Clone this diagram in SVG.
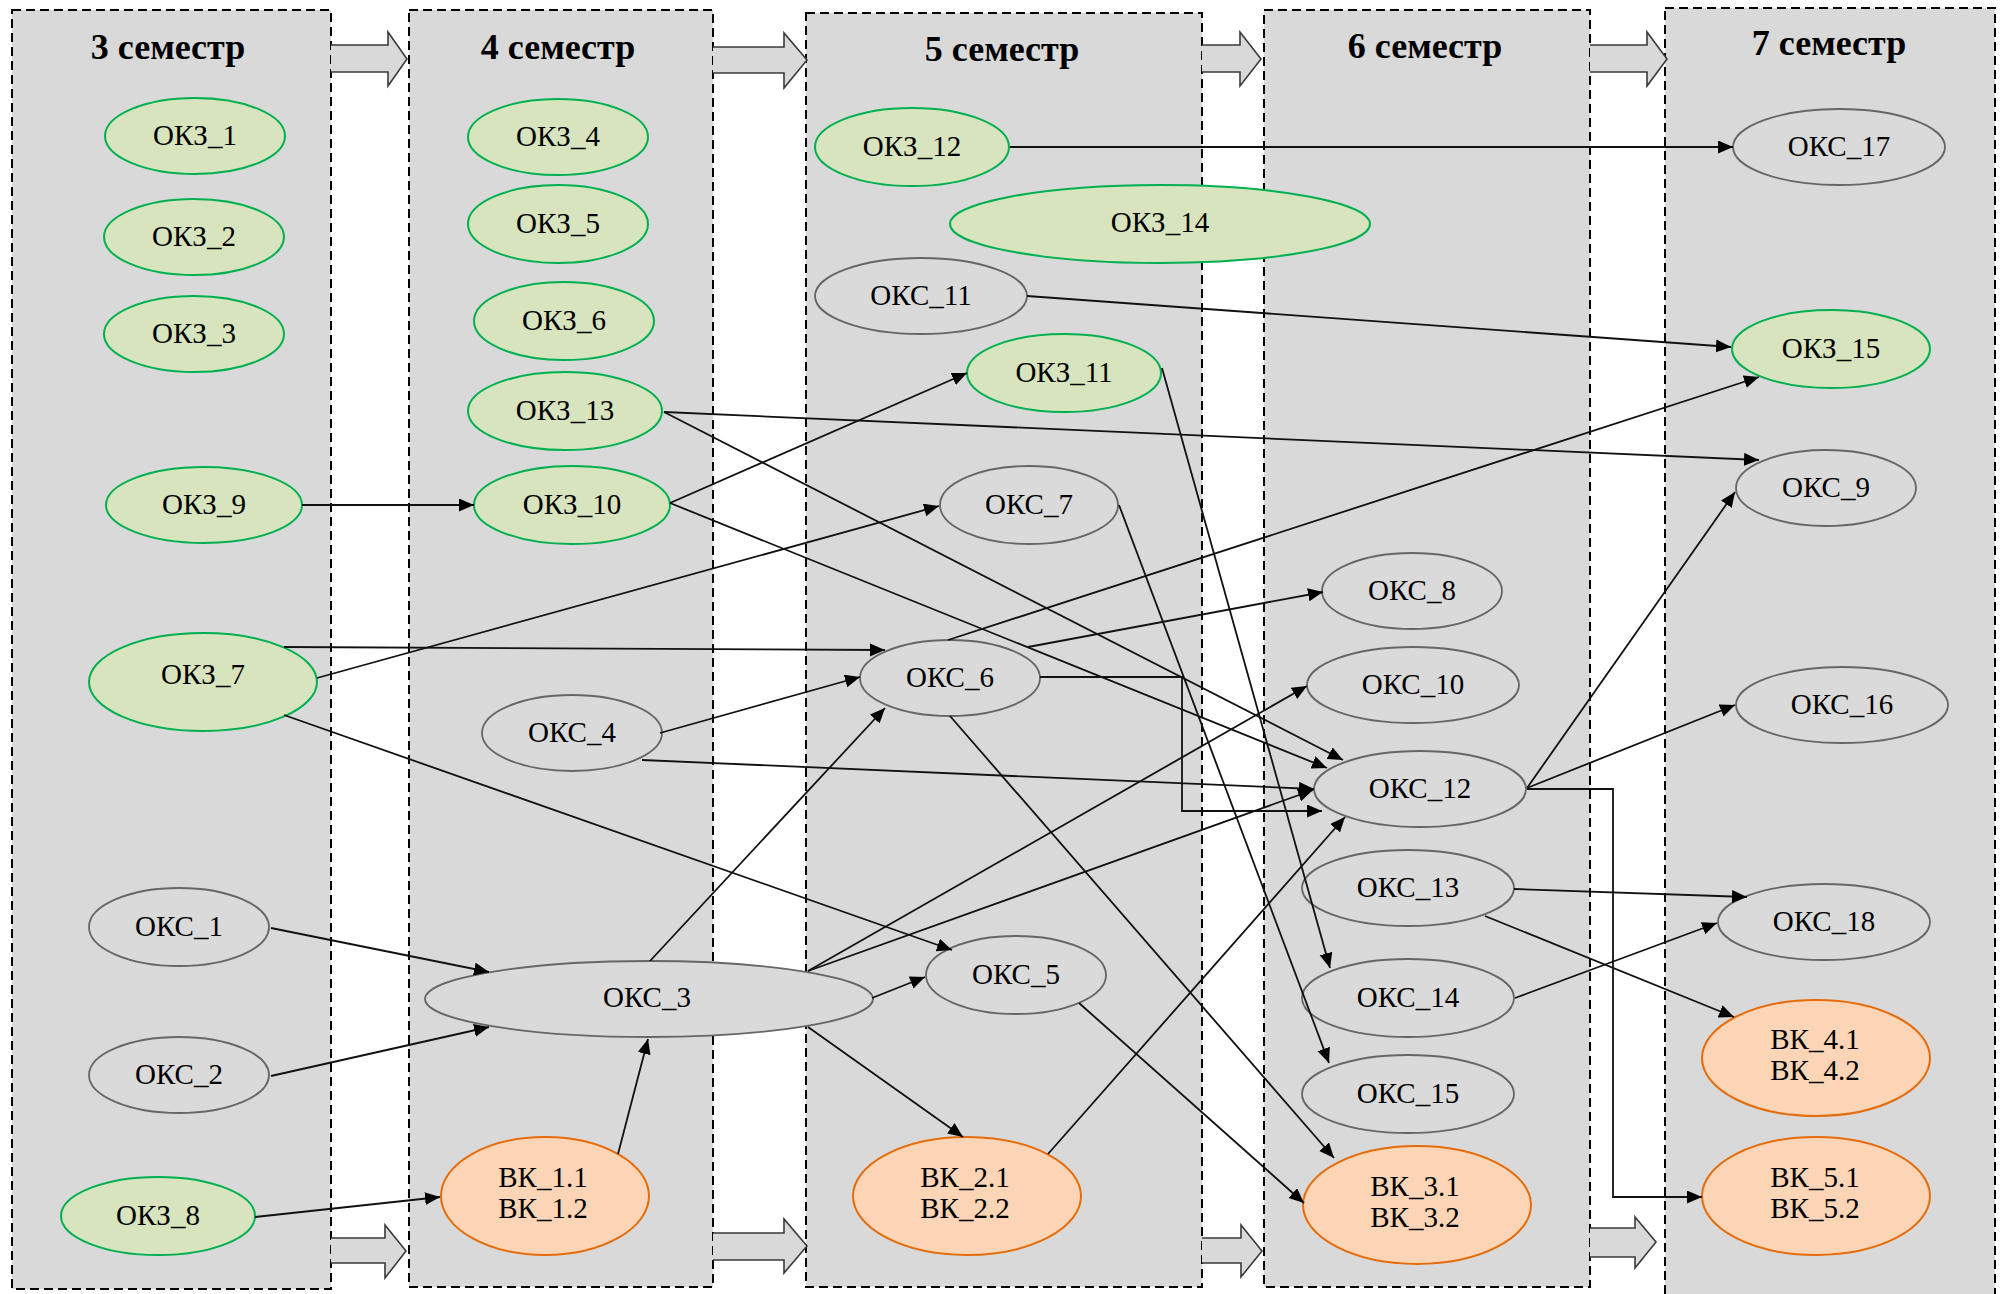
<svg xmlns="http://www.w3.org/2000/svg" width="2006" height="1294" viewBox="0 0 2006 1294">
<style>
.col{fill:#d9d9d9;stroke:#000;stroke-width:2;stroke-dasharray:9 5}
.hdr{font-family:"Liberation Serif","Times New Roman",serif;font-weight:bold;font-size:36px;text-anchor:middle;fill:#000}
.blk{fill:#d9d9d9;stroke:#3a3a3a;stroke-width:1.6}
.g ellipse{fill:#d7e4bd;stroke:#00b050;stroke-width:2}
.s ellipse{fill:#dadada;stroke:#666;stroke-width:1.8}
.o ellipse{fill:#fbd5b5;stroke:#e46c0a;stroke-width:2}
text.t{font-family:"Liberation Serif","Times New Roman",serif;font-size:29px;text-anchor:middle;fill:#000}
#connectors path,#connectors line{fill:none;stroke:#111;stroke-width:1.8;marker-end:url(#ah)}
</style>
<defs>
<marker id="ah" markerUnits="userSpaceOnUse" markerWidth="16" markerHeight="14" refX="15" refY="6.5" orient="auto">
<path d="M0,0 L15,6.5 L0,13 z" fill="#000"/>
</marker>
</defs>

<g id="columns">
<rect class="col" x="12" y="10" width="319" height="1279"/>
<rect class="col" x="409" y="10" width="304" height="1277"/>
<rect class="col" x="806" y="13" width="396" height="1274"/>
<rect class="col" x="1264" y="10" width="326" height="1277"/>
<rect class="col" x="1665" y="8" width="330" height="1300"/>
<text class="hdr" x="168" y="59">3 семестр</text>
<text class="hdr" x="558" y="59">4 семестр</text>
<text class="hdr" x="1002" y="61">5 семестр</text>
<text class="hdr" x="1425" y="58">6 семестр</text>
<text class="hdr" x="1829" y="55">7 семестр</text>
</g>

<g id="block-arrows">
<path class="blk" d="M331,45 L388,45 L388,32 L407,59 L388,86 L388,72 L331,72"/>
<path class="blk" d="M713,47 L784,47 L784,33 L807,60 L784,88 L784,73 L713,73"/>
<path class="blk" d="M1202,45 L1240,45 L1240,32 L1261,59 L1240,86 L1240,72 L1202,72"/>
<path class="blk" d="M1590,45 L1647,45 L1647,32 L1667,59 L1647,86 L1647,72 L1590,72"/>
<path class="blk" d="M331,1238 L385,1238 L385,1225 L406,1251 L385,1278 L385,1263 L331,1263"/>
<path class="blk" d="M713,1233 L784,1233 L784,1219 L807,1246 L784,1273 L784,1260 L713,1260"/>
<path class="blk" d="M1202,1238 L1241,1238 L1241,1225 L1262,1251 L1241,1277 L1241,1263 L1202,1263"/>
<path class="blk" d="M1590,1228 L1635,1228 L1635,1217 L1656,1242 L1635,1268 L1635,1257 L1590,1257"/>
</g>

<g id="nodes">
<g id="OKZ_1" class="g"><ellipse cx="195" cy="136" rx="90" ry="38"/><text class="t" x="195" y="145">ОКЗ_1</text></g>
<g id="OKZ_2" class="g"><ellipse cx="194" cy="237" rx="90" ry="38"/><text class="t" x="194" y="246">ОКЗ_2</text></g>
<g id="OKZ_3" class="g"><ellipse cx="194" cy="334" rx="90" ry="38"/><text class="t" x="194" y="343">ОКЗ_3</text></g>
<g id="OKZ_9" class="g"><ellipse cx="204" cy="505" rx="98" ry="38"/><text class="t" x="204" y="514">ОКЗ_9</text></g>
<g id="OKZ_7" class="g"><ellipse cx="203" cy="682" rx="114" ry="49"/><text class="t" x="203" y="684">ОКЗ_7</text></g>
<g id="OKS_1" class="s"><ellipse cx="179" cy="927" rx="90" ry="39"/><text class="t" x="179" y="936">ОКС_1</text></g>
<g id="OKS_2" class="s"><ellipse cx="179" cy="1075" rx="90" ry="38"/><text class="t" x="179" y="1084">ОКС_2</text></g>
<g id="OKZ_8" class="g"><ellipse cx="158" cy="1216" rx="97" ry="39"/><text class="t" x="158" y="1225">ОКЗ_8</text></g>

<g id="OKZ_4" class="g"><ellipse cx="558" cy="137" rx="90" ry="38"/><text class="t" x="558" y="146">ОКЗ_4</text></g>
<g id="OKZ_5" class="g"><ellipse cx="558" cy="224" rx="90" ry="39"/><text class="t" x="558" y="233">ОКЗ_5</text></g>
<g id="OKZ_6" class="g"><ellipse cx="564" cy="321" rx="90" ry="39"/><text class="t" x="564" y="330">ОКЗ_6</text></g>
<g id="OKZ_13" class="g"><ellipse cx="565" cy="411" rx="97" ry="39"/><text class="t" x="565" y="420">ОКЗ_13</text></g>
<g id="OKZ_10" class="g"><ellipse cx="572" cy="505" rx="98" ry="39"/><text class="t" x="572" y="514">ОКЗ_10</text></g>
<g id="OKS_4" class="s"><ellipse cx="572" cy="733" rx="90" ry="38"/><text class="t" x="572" y="742">ОКС_4</text></g>
<g id="OKS_3" class="s"><ellipse cx="649" cy="999" rx="224" ry="38"/><text class="t" x="647" y="1007">ОКС_3</text></g>
<g id="VK_1" class="o"><ellipse cx="545" cy="1196" rx="104" ry="59"/><text class="t" x="543" y="1187">ВК_1.1</text><text class="t" x="543" y="1218">ВК_1.2</text></g>

<g id="OKZ_12" class="g"><ellipse cx="912" cy="147" rx="97" ry="39"/><text class="t" x="912" y="156">ОКЗ_12</text></g>
<g id="OKZ_14" class="g"><ellipse cx="1160" cy="224" rx="210" ry="39"/><text class="t" x="1160" y="232">ОКЗ_14</text></g>
<g id="OKS_11" class="s"><ellipse cx="921" cy="296" rx="106" ry="38"/><text class="t" x="921" y="305">ОКС_11</text></g>
<g id="OKZ_11" class="g"><ellipse cx="1064" cy="373" rx="97" ry="39"/><text class="t" x="1064" y="382">ОКЗ_11</text></g>
<g id="OKS_7" class="s"><ellipse cx="1029" cy="505" rx="89" ry="39"/><text class="t" x="1029" y="514">ОКС_7</text></g>
<g id="OKS_6" class="s"><ellipse cx="950" cy="678" rx="90" ry="38"/><text class="t" x="950" y="687">ОКС_6</text></g>
<g id="OKS_5" class="s"><ellipse cx="1016" cy="975" rx="90" ry="39"/><text class="t" x="1016" y="984">ОКС_5</text></g>
<g id="VK_2" class="o"><ellipse cx="967" cy="1196" rx="114" ry="59"/><text class="t" x="965" y="1187">ВК_2.1</text><text class="t" x="965" y="1218">ВК_2.2</text></g>

<g id="OKS_8" class="s"><ellipse cx="1412" cy="591" rx="90" ry="38"/><text class="t" x="1412" y="600">ОКС_8</text></g>
<g id="OKS_10" class="s"><ellipse cx="1413" cy="685" rx="106" ry="38"/><text class="t" x="1413" y="694">ОКС_10</text></g>
<g id="OKS_12" class="s"><ellipse cx="1420" cy="789" rx="106" ry="38"/><text class="t" x="1420" y="798">ОКС_12</text></g>
<g id="OKS_13" class="s"><ellipse cx="1408" cy="888" rx="106" ry="38"/><text class="t" x="1408" y="897">ОКС_13</text></g>
<g id="OKS_14" class="s"><ellipse cx="1408" cy="998" rx="106" ry="39"/><text class="t" x="1408" y="1007">ОКС_14</text></g>
<g id="OKS_15" class="s"><ellipse cx="1408" cy="1094" rx="106" ry="39"/><text class="t" x="1408" y="1103">ОКС_15</text></g>
<g id="VK_3" class="o"><ellipse cx="1417" cy="1205" rx="114" ry="59"/><text class="t" x="1415" y="1196">ВК_3.1</text><text class="t" x="1415" y="1227">ВК_3.2</text></g>

<g id="OKS_17" class="s"><ellipse cx="1839" cy="147" rx="106" ry="38"/><text class="t" x="1839" y="156">ОКС_17</text></g>
<g id="OKZ_15" class="g"><ellipse cx="1831" cy="349" rx="99" ry="39"/><text class="t" x="1831" y="358">ОКЗ_15</text></g>
<g id="OKS_9" class="s"><ellipse cx="1826" cy="488" rx="90" ry="38"/><text class="t" x="1826" y="497">ОКС_9</text></g>
<g id="OKS_16" class="s"><ellipse cx="1842" cy="705" rx="106" ry="38"/><text class="t" x="1842" y="714">ОКС_16</text></g>
<g id="OKS_18" class="s"><ellipse cx="1824" cy="922" rx="106" ry="38"/><text class="t" x="1824" y="931">ОКС_18</text></g>
<g id="VK_4" class="o"><ellipse cx="1816" cy="1058" rx="114" ry="58"/><text class="t" x="1815" y="1049">ВК_4.1</text><text class="t" x="1815" y="1080">ВК_4.2</text></g>
<g id="VK_5" class="o"><ellipse cx="1816" cy="1196" rx="114" ry="59"/><text class="t" x="1815" y="1187">ВК_5.1</text><text class="t" x="1815" y="1218">ВК_5.2</text></g>
</g>

<g id="connectors">
<line x1="1010" y1="147" x2="1733" y2="147"/>
<line x1="1027" y1="296" x2="1731" y2="347"/>
<line x1="664" y1="412" x2="1759" y2="460"/>
<line x1="664" y1="412" x2="1343" y2="760"/>
<line x1="670" y1="503" x2="1327" y2="768"/>
<line x1="302" y1="505" x2="474" y2="505"/>
<line x1="670" y1="503" x2="967" y2="373"/>
<line x1="317" y1="678" x2="939" y2="506"/>
<line x1="284" y1="647" x2="885" y2="650"/>
<line x1="284" y1="715" x2="952" y2="950"/>
<line x1="660" y1="733" x2="860" y2="677"/>
<line x1="642" y1="760" x2="1314" y2="789"/>
<line x1="1028" y1="647" x2="1323" y2="592"/>
<line x1="948" y1="640" x2="1759" y2="377"/>
<path d="M1040,677 H1182 V811 H1322"/>
<line x1="950" y1="716" x2="1334" y2="1158"/>
<line x1="1119" y1="505" x2="1329" y2="1063"/>
<line x1="1162" y1="368" x2="1330" y2="968"/>
<line x1="650" y1="961" x2="885" y2="708"/>
<line x1="808" y1="971" x2="1307" y2="686"/>
<line x1="808" y1="971" x2="1313" y2="790"/>
<line x1="872" y1="998" x2="925" y2="977"/>
<line x1="808" y1="1027" x2="963" y2="1137"/>
<line x1="271" y1="928" x2="489" y2="972"/>
<line x1="271" y1="1076" x2="489" y2="1027"/>
<line x1="255" y1="1217" x2="440" y2="1197"/>
<line x1="618" y1="1154" x2="648" y2="1039"/>
<line x1="1048" y1="1154" x2="1345" y2="817"/>
<line x1="1079" y1="1003" x2="1304" y2="1203"/>
<line x1="1527" y1="788" x2="1735" y2="492"/>
<line x1="1527" y1="788" x2="1735" y2="705"/>
<path d="M1527,789 H1613 V1197 H1702"/>
<line x1="1514" y1="889" x2="1747" y2="897"/>
<line x1="1485" y1="916" x2="1734" y2="1017"/>
<line x1="1515" y1="998" x2="1717" y2="923"/>
</g>
</svg>
